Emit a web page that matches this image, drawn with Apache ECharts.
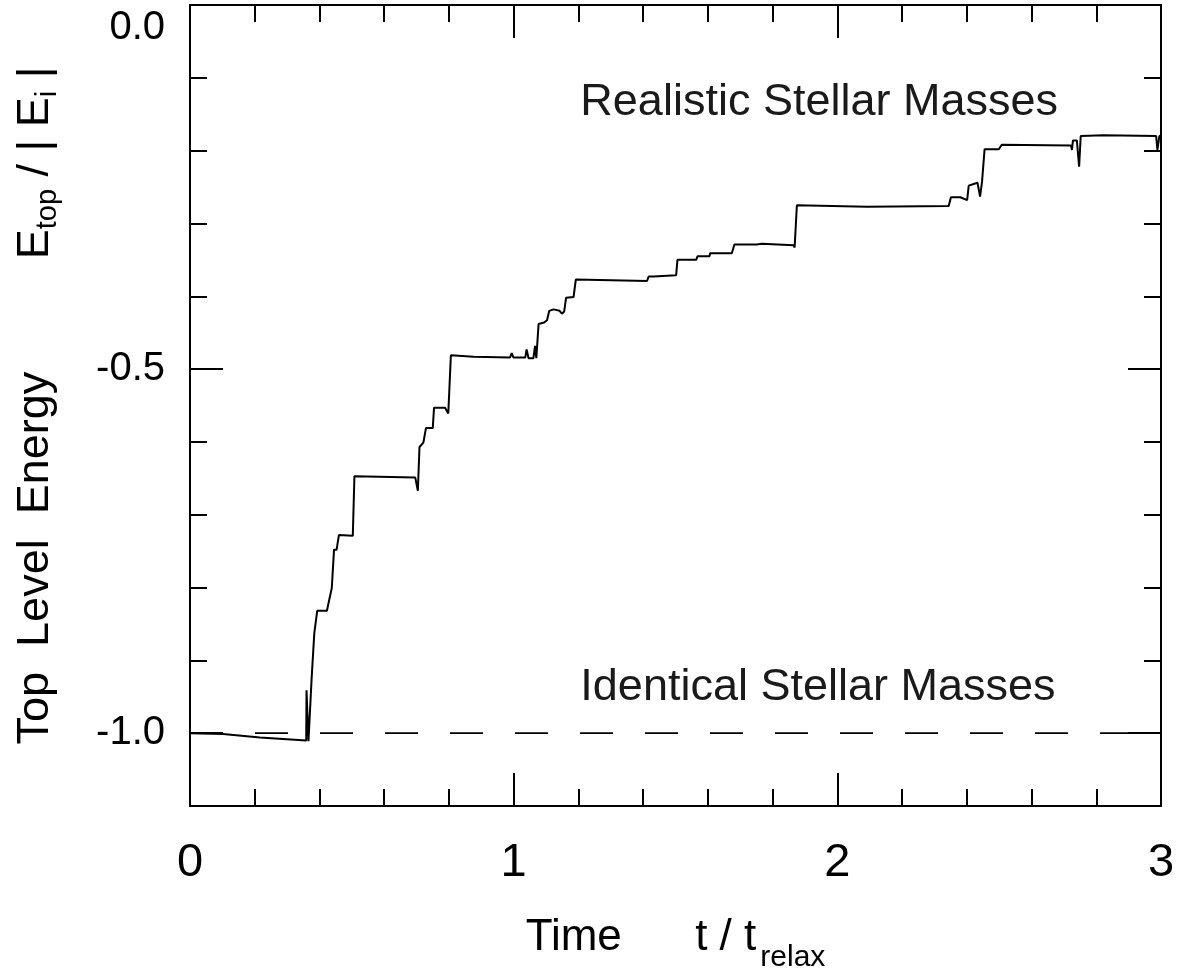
<!DOCTYPE html>
<html>
<head>
<meta charset="utf-8">
<script src="https://cdn.jsdelivr.net/npm/echarts@6/dist/echarts.min.js"></script>
<style>
html,body{margin:0;padding:0;background:#fff;}
#chart{width:1183px;height:974px;}
</style>
</head>
<body>
<div id="chart"></div>
<script>
// Time t / t_relax
const timeValues = [0,0.102,0.216,0.359,0.360,0.366,0.376,0.384,0.393,0.423,0.430,0.438,0.445,0.453,0.460,0.503,0.508,0.696,0.704,0.709,0.721,0.729,0.750,0.754,0.788,0.798,0.806,0.876,0.989,0.994,0.999,1.036,1.040,1.046,1.061,1.066,1.070,1.077,1.094,1.103,1.110,1.123,1.142,1.149,1.156,1.162,1.185,1.192,1.412,1.417,1.432,1.437,1.502,1.506,1.564,1.568,1.605,1.607,1.674,1.682,1.750,1.755,1.767,1.865,1.868,1.875,2.092,2.097,2.344,2.351,2.380,2.401,2.406,2.433,2.441,2.447,2.455,2.499,2.504,2.508,2.722,2.725,2.728,2.740,2.747,2.752,2.822,2.985,2.989,2.995,3.0];
// Realistic stellar masses: E_top / |E_i|
const realisticEnergy = [-1.000,-1.001,-1.006,-1.010,-0.941,-1.011,-0.923,-0.863,-0.832,-0.832,-0.817,-0.801,-0.748,-0.748,-0.728,-0.729,-0.647,-0.649,-0.667,-0.607,-0.601,-0.581,-0.581,-0.553,-0.553,-0.561,-0.481,-0.483,-0.484,-0.478,-0.484,-0.484,-0.473,-0.485,-0.485,-0.468,-0.485,-0.438,-0.436,-0.433,-0.420,-0.418,-0.420,-0.424,-0.421,-0.402,-0.401,-0.377,-0.379,-0.373,-0.373,-0.371,-0.371,-0.350,-0.350,-0.345,-0.345,-0.341,-0.341,-0.329,-0.329,-0.327,-0.328,-0.330,-0.333,-0.275,-0.277,-0.275,-0.276,-0.264,-0.264,-0.268,-0.248,-0.244,-0.263,-0.243,-0.198,-0.198,-0.200,-0.192,-0.193,-0.199,-0.186,-0.186,-0.222,-0.180,-0.179,-0.180,-0.199,-0.180,-0.179];
// Identical stellar masses (dashed, constant)
const identicalTime = [0, 3];
const identicalEnergy = [-1.0, -1.0];
// Annotation texts and anchor positions (data coords)
const annotationTexts = ['Realistic Stellar Masses', 'Identical Stellar Masses'];
const annotationT = [1.206, 1.206];
const annotationE = [-0.134, -0.938];
// Axis ranges / ticks
const xMin = 0, xMax = 3, xMajor = 1;
const yMin = -1.1, yMax = 0, yMinorStep = 0.1;
const yMajorTicks = [-1.0, -0.5, 0.0];

const FONT = 'Liberation Sans, Arial, Helvetica, sans-serif';
const NARROW = 'Liberation Sans Narrow, Liberation Sans, Arial, sans-serif';

const realisticData = timeValues.map((t, i) => [t, realisticEnergy[i]]);
const identicalData = identicalTime.map((t, i) => [t, identicalEnergy[i]]);
const annotationData = annotationTexts.map((s, i) => ({value: [annotationT[i], annotationE[i]], name: s}));

const chart = echarts.init(document.getElementById('chart'), null, {renderer: 'canvas'});

const axisLineStyle = {color: '#000', width: 2};
const tickStyle = {color: '#000', width: 2};

function yLabel(v) {
  if (Math.abs(v * 2 - Math.round(v * 2)) > 1e-6) return '';
  if (Math.abs(v) < 1e-9) return '{top|0.0}';
  return v.toFixed(1);
}

const baseY = {
  type: 'value', min: yMin, max: yMax, interval: yMinorStep,
  splitLine: {show: false},
  axisLine: {show: true, onZero: false, lineStyle: axisLineStyle},
};

chart.setOption({
  animation: false,
  backgroundColor: '#fff',
  grid: {left: 190, right: 22, top: 5, bottom: 168, containLabel: false, outerBoundsMode: 'none'},
  xAxis: [
    {
      type: 'value', position: 'bottom', min: xMin, max: xMax, interval: xMajor,
      splitLine: {show: false},
      axisLine: {show: true, onZero: false, lineStyle: axisLineStyle},
      axisTick: {show: true, inside: true, length: 33, lineStyle: tickStyle},
      minorTick: {show: true, splitNumber: 5, length: 17, lineStyle: tickStyle},
      axisLabel: {show: true, margin: 34, fontSize: 47, fontFamily: NARROW, color: '#000'},
      name: 'Time      t / t{sub|relax}',
      nameLocation: 'middle', nameGap: 97,
      nameTextStyle: {fontSize: 44, fontFamily: NARROW, color: '#000',
        rich: {sub: {fontSize: 30, fontFamily: NARROW, color: '#000', padding: [40, 0, 0, 4]}}}
    },
    {
      type: 'value', position: 'top', min: xMin, max: xMax, interval: xMajor,
      splitLine: {show: false},
      axisLine: {show: true, onZero: false, lineStyle: axisLineStyle},
      axisTick: {show: true, inside: true, length: 33, lineStyle: tickStyle},
      minorTick: {show: true, splitNumber: 5, length: 17, lineStyle: tickStyle},
      axisLabel: {show: false}
    }
  ],
  yAxis: [
    Object.assign({}, baseY, {
      position: 'left',
      axisTick: {show: true, inside: true, length: 17, lineStyle: tickStyle},
      axisLabel: {show: true, margin: 25, fontSize: 40, fontFamily: FONT, color: '#000',
        formatter: yLabel,
        rich: {top: {fontSize: 40, fontFamily: FONT, color: '#000', padding: [46, 0, 0, 0]}}},
      name: 'Top  Level  Energy         E{sub|top} / | E{sub|i} |',
      nameLocation: 'middle', nameGap: 128, nameRotate: 90,
      nameTextStyle: {fontSize: 45, fontFamily: FONT, color: '#000',
        rich: {sub: {fontSize: 29, fontFamily: FONT, color: '#000', padding: [24, 0, 0, 0]}}}
    }),
    Object.assign({}, baseY, {
      position: 'left', axisLine: {show: false, onZero: false},
      axisTick: {show: true, inside: true, length: 33, lineStyle: tickStyle, customValues: yMajorTicks},
      axisLabel: {show: false}
    }),
    Object.assign({}, baseY, {
      position: 'right',
      axisTick: {show: true, inside: true, length: 17, lineStyle: tickStyle},
      axisLabel: {show: false}
    }),
    Object.assign({}, baseY, {
      position: 'right', axisLine: {show: false, onZero: false},
      axisTick: {show: true, inside: true, length: 33, lineStyle: tickStyle, customValues: yMajorTicks},
      axisLabel: {show: false}
    })
  ],
  series: [
    {
      name: 'Identical Stellar Masses', type: 'line', xAxisIndex: 0, yAxisIndex: 0,
      data: identicalData, showSymbol: false, symbol: 'none',
      lineStyle: {color: '#000', width: 1.8, type: [33, 32]}, z: 2
    },
    {
      name: 'Realistic Stellar Masses', type: 'line', xAxisIndex: 0, yAxisIndex: 0,
      data: realisticData, showSymbol: false, symbol: 'none',
      lineStyle: {color: '#000', width: 2}, z: 3
    },
    {
      name: 'annotations', type: 'scatter', xAxisIndex: 0, yAxisIndex: 0,
      data: annotationData, symbolSize: 0,
      itemStyle: {opacity: 1},
      label: {show: true, position: 'right', distance: 0, formatter: p => p.name,
        fontSize: 45, fontFamily: FONT, color: '#1a1a1a', opacity: 1},
      emphasis: {disabled: true},
      silent: true, z: 4
    }
  ]
});
</script>
</body>
</html>
